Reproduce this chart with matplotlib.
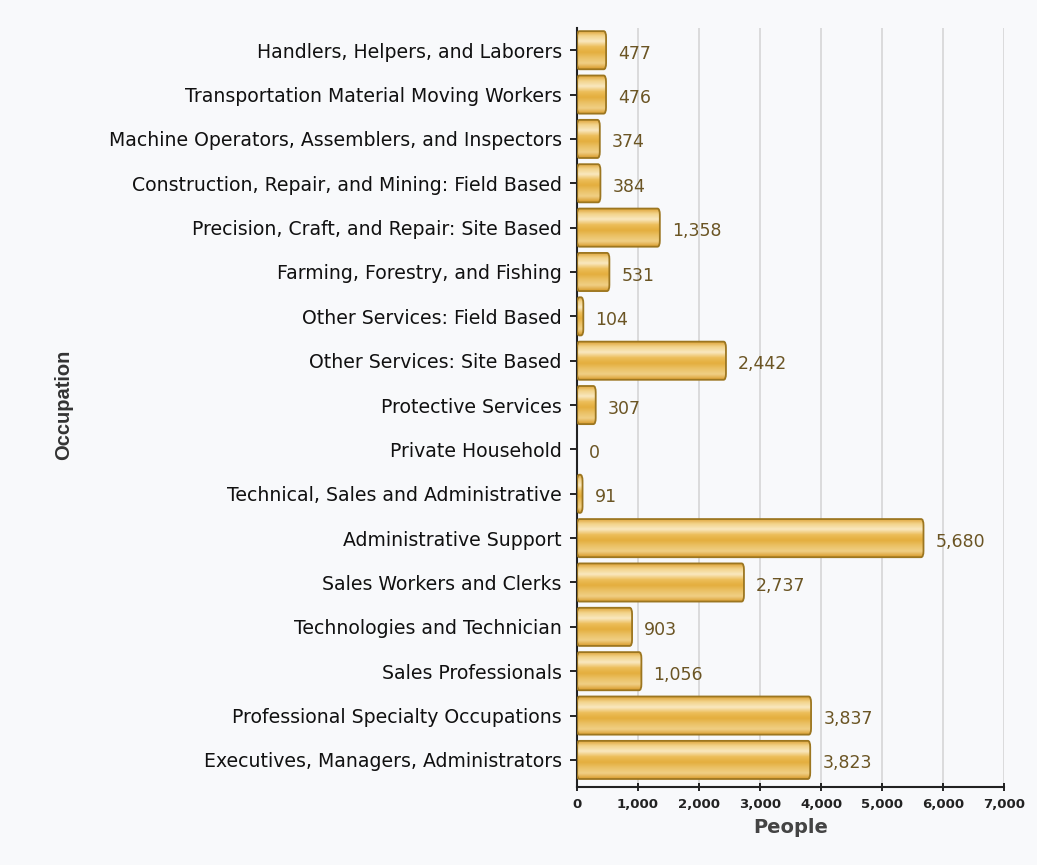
import matplotlib
matplotlib.use('Agg')
import matplotlib.pyplot as plt
import numpy as np
from matplotlib.patches import FancyBboxPatch
from matplotlib.colors import LinearSegmentedColormap

# Datos
occupations = [
    'Handlers, Helpers, and Laborers',
    'Transportation Material Moving Workers',
    'Machine Operators, Assemblers, and Inspectors',
    'Construction, Repair, and Mining: Field Based',
    'Precision, Craft, and Repair: Site Based',
    'Farming, Forestry, and Fishing',
    'Other Services: Field Based',
    'Other Services: Site Based',
    'Protective Services',
    'Private Household',
    'Technical, Sales and Administrative',
    'Administrative Support',
    'Sales Workers and Clerks',
    'Technologies and Technician',
    'Sales Professionals',
    'Professional Specialty Occupations',
    'Executives, Managers, Administrators',
]
people = [477, 476, 374, 384, 1358, 531, 104, 2442, 307, 0, 91, 5680, 2737, 903, 1056, 3837, 3823]
x_ticks = [0, 1000, 2000, 3000, 4000, 5000, 6000, 7000]

plt.rcParams['font.family'] = 'DejaVu Sans'

bg = '#f8f9fb'
fig = plt.figure(figsize=(10.37, 8.65), dpi=100, facecolor=bg)
ax = fig.add_axes([0.5564, 0.0902, 0.4118, 0.8774], facecolor=bg)

n = len(occupations)
y = np.arange(n)
bar_h = 0.86

ax.set_xlim(0, 7000)
ax.set_ylim(n - 0.39, -0.5)

# Cuadrícula vertical
for t in x_ticks[1:]:
    ax.axvline(t, color='#d6d6d6', linewidth=1.2, zorder=0)

# Degradado dorado para las barras
cmap = LinearSegmentedColormap.from_list(
    'gold', ['#dca032', '#f3d48c', '#f9e8c0', '#ecbd58', '#e4ae3e', '#ebc266', '#f0cf85', '#d99c2c'])
grad = np.linspace(0, 1, 64).reshape(-1, 1)

for yi, v in zip(y, people):
    if v <= 0:
        continue
    patch = FancyBboxPatch((0, yi - bar_h / 2), v, bar_h,
                           boxstyle='round,pad=0,rounding_size=40',
                           mutation_aspect=0.0035,
                           facecolor='#e8b94a', edgecolor='none', zorder=2)
    ax.add_patch(patch)
    im = ax.imshow(grad, extent=(0, v, yi + bar_h / 2, yi - bar_h / 2), aspect='auto',
                   cmap=cmap, zorder=2.5, interpolation='bicubic')
    im.set_clip_path(patch)
    edge = FancyBboxPatch((0, yi - bar_h / 2), v, bar_h,
                          boxstyle='round,pad=0,rounding_size=40',
                          mutation_aspect=0.0035,
                          facecolor='none', edgecolor='#9c7620', linewidth=1.3, zorder=3)
    ax.add_patch(edge)

# Etiquetas de valor
for yi, v in zip(y, people):
    ax.text(v + 200, yi + 0.08, f'{v:,}', va='center', ha='left', fontsize=12.5,
            color='#6b5524', zorder=4)

ax.set_yticks(y)
ax.set_yticklabels(occupations, fontsize=13.6, color='#111111')
ax.set_xticks(x_ticks)
ax.set_xticklabels([f'{t:,}' for t in x_ticks], fontsize=9.5, fontweight='bold', color='#222222')

for s in ['top', 'right']:
    ax.spines[s].set_visible(False)
ax.spines['left'].set_color('#222222')
ax.spines['bottom'].set_color('#222222')
ax.spines['left'].set_linewidth(1.5)
ax.spines['bottom'].set_linewidth(1.5)
ax.tick_params(axis='y', direction='out', length=5, width=1.2, pad=6)
ax.tick_params(axis='x', direction='inout', length=6, width=1.2, pad=5)

ax.set_xlabel('People', fontsize=14, fontweight='bold', color='#444444', labelpad=5)
fig.text(0.061, 0.532, 'Occupation', rotation=90, ha='center', va='center',
         fontsize=14.5, fontweight='bold', color='#333333',
         family=['Liberation Sans', 'DejaVu Sans'])

fig.savefig('out.png', dpi=100, facecolor=bg)
